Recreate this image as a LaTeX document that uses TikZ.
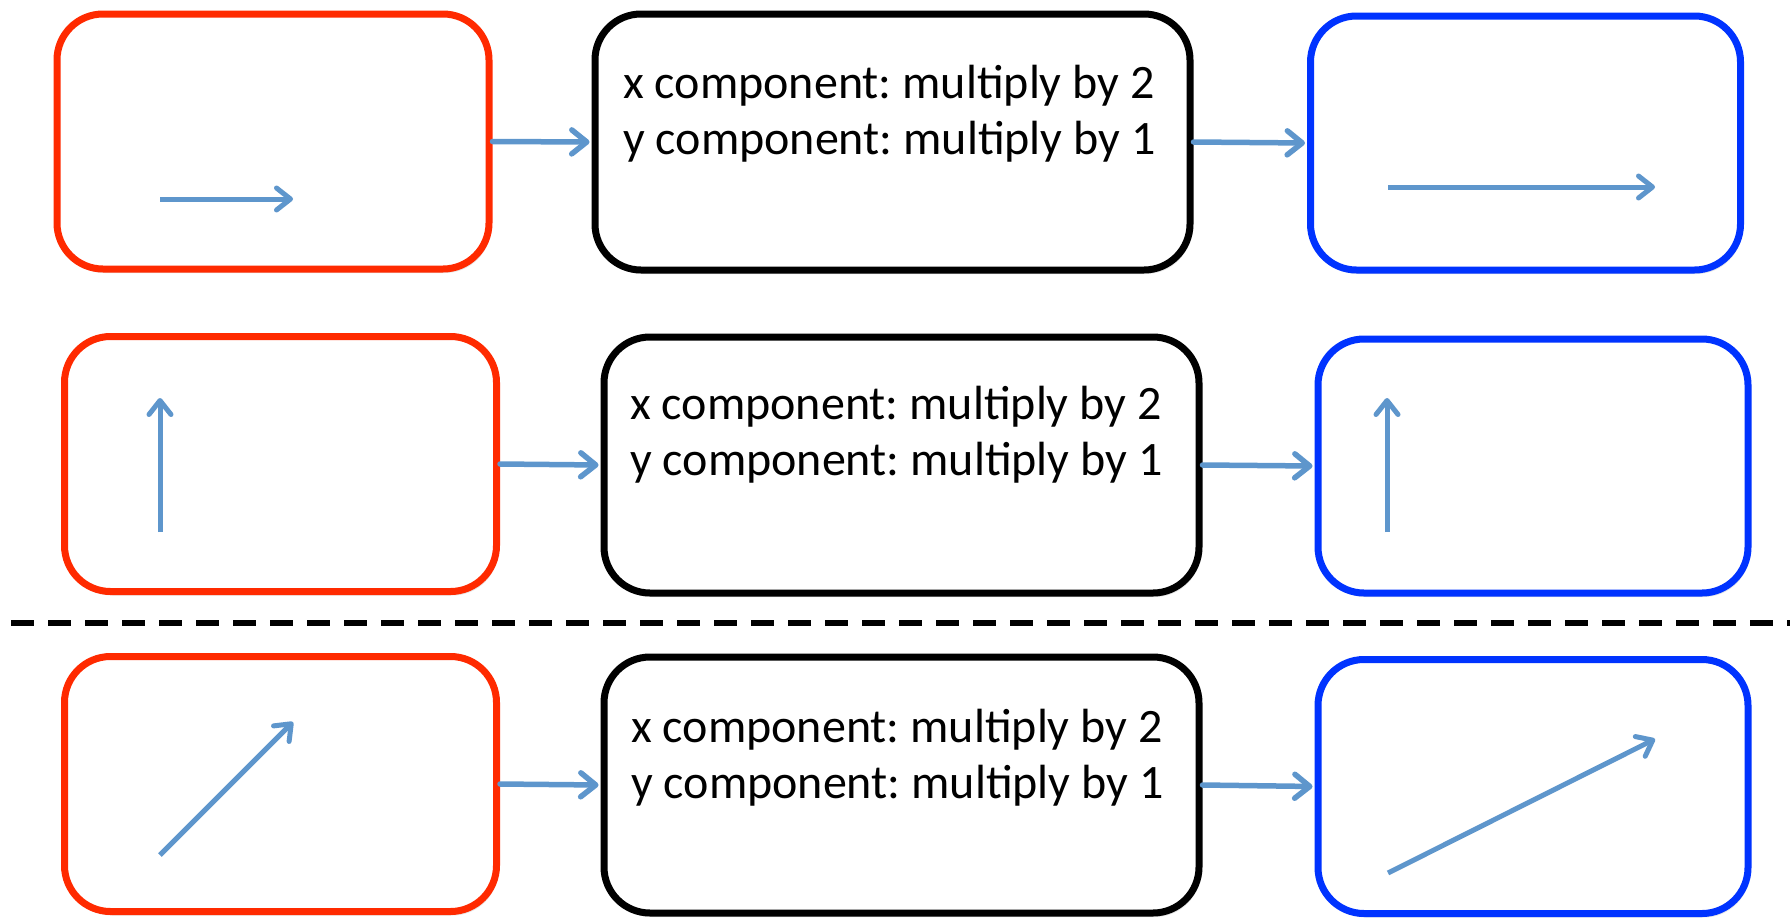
\documentclass[tikz,border=0pt]{standalone}
\usepackage{fontspec}
\setmainfont{Carlito}
\usetikzlibrary{arrows.meta,shadows}
\definecolor{bred}{RGB}{255,42,0}
\definecolor{bblue}{RGB}{0,51,255}
\definecolor{arr}{RGB}{94,150,204}
\begin{document}
\frenchspacing
\begin{tikzpicture}[x=1pt,y=-1pt,
  box/.style={draw, line width=7pt, rounded corners=46pt, fill=white, inner sep=0pt,
    drop shadow={shadow xshift=2pt, shadow yshift=-4pt, opacity=0.2}},
  redbox/.style={box, draw=bred, minimum width=432pt, minimum height=255pt},
  bluebox/.style={box, draw=bblue, minimum width=430pt, minimum height=254pt},
  opbox/.style={box, draw=black, minimum width=595pt, minimum height=256pt},
  conn/.style={draw=arr, line width=5.5pt, line cap=round,
    -{Straight Barb[length=15pt,width=24pt,line cap=round,line join=round]}, shorten >=2pt},
  vec/.style={draw=arr, line width=5pt,
    -{Straight Barb[length=14pt,width=22pt,line cap=round,line join=round]}},
  optext/.style={anchor=base west, inner sep=0pt, font=\fontsize{48}{56}\selectfont},
  sep/.style={draw=black, line width=5.5pt, dash pattern=on 23pt off 14pt}
]
\useasboundingbox (0,0) rectangle (1790,919);

% row 1
\node[redbox]  (r1) at (273,141.5) {};
\node[opbox]   (k1) at (892.5,142) {};
\node[bluebox] (b1) at (1525.5,143) {};
\node[optext]  (t1) at (623,98) {\vtop{\hbox{x component: multiply by 2}\hbox{y component: multiply by 1}}};
\draw[conn] (r1.east) -- (k1.west);
\draw[conn] (k1.east) -- (b1.west);
\coordinate (v1s) at (160,199); \coordinate (v1e) at (293,199);
\coordinate (w1s) at (1388,187); \coordinate (w1e) at (1655,187);
\draw[vec] (v1s) -- (v1e);
\draw[vec] (w1s) -- (w1e);

% row 2
\node[redbox]  (r2) at (280.5,464) {};
\node[opbox]   (k2) at (901.5,465) {};
\node[bluebox] (b2) at (1533,466) {};
\node[optext]  (t2) at (630,419) {\vtop{\hbox{x component: multiply by 2}\hbox{y component: multiply by 1}}};
\draw[conn] (r2.east) -- (k2.west);
\draw[conn] (k2.east) -- (b2.west);
\coordinate (v2s) at (160,532); \coordinate (v2e) at (160,398);
\coordinate (w2s) at (1387,532); \coordinate (w2e) at (1387,398);
\draw[vec] (v2s) -- (v2e);
\draw[vec] (w2s) -- (w2e);

% separator
\coordinate (d1) at (11,623); \coordinate (d2) at (1790,623);
\draw[sep] (d1) -- (d2);

% row 3
\node[redbox]  (r3) at (280.5,784) {};
\node[opbox]   (k3) at (901.5,785) {};
\node[bluebox] (b3) at (1533,786.5) {};
\node[optext]  (t3) at (631,742) {\vtop{\hbox{x component: multiply by 2}\hbox{y component: multiply by 1}}};
\draw[conn] (r3.east) -- (k3.west);
\draw[conn] (k3.east) -- (b3.west);
\coordinate (v3s) at (160,855); \coordinate (v3e) at (293,722);
\coordinate (w3s) at (1388,873); \coordinate (w3e) at (1655,739);
\draw[vec] (v3s) -- (v3e);
\draw[vec] (w3s) -- (w3e);
\end{tikzpicture}
\end{document}
